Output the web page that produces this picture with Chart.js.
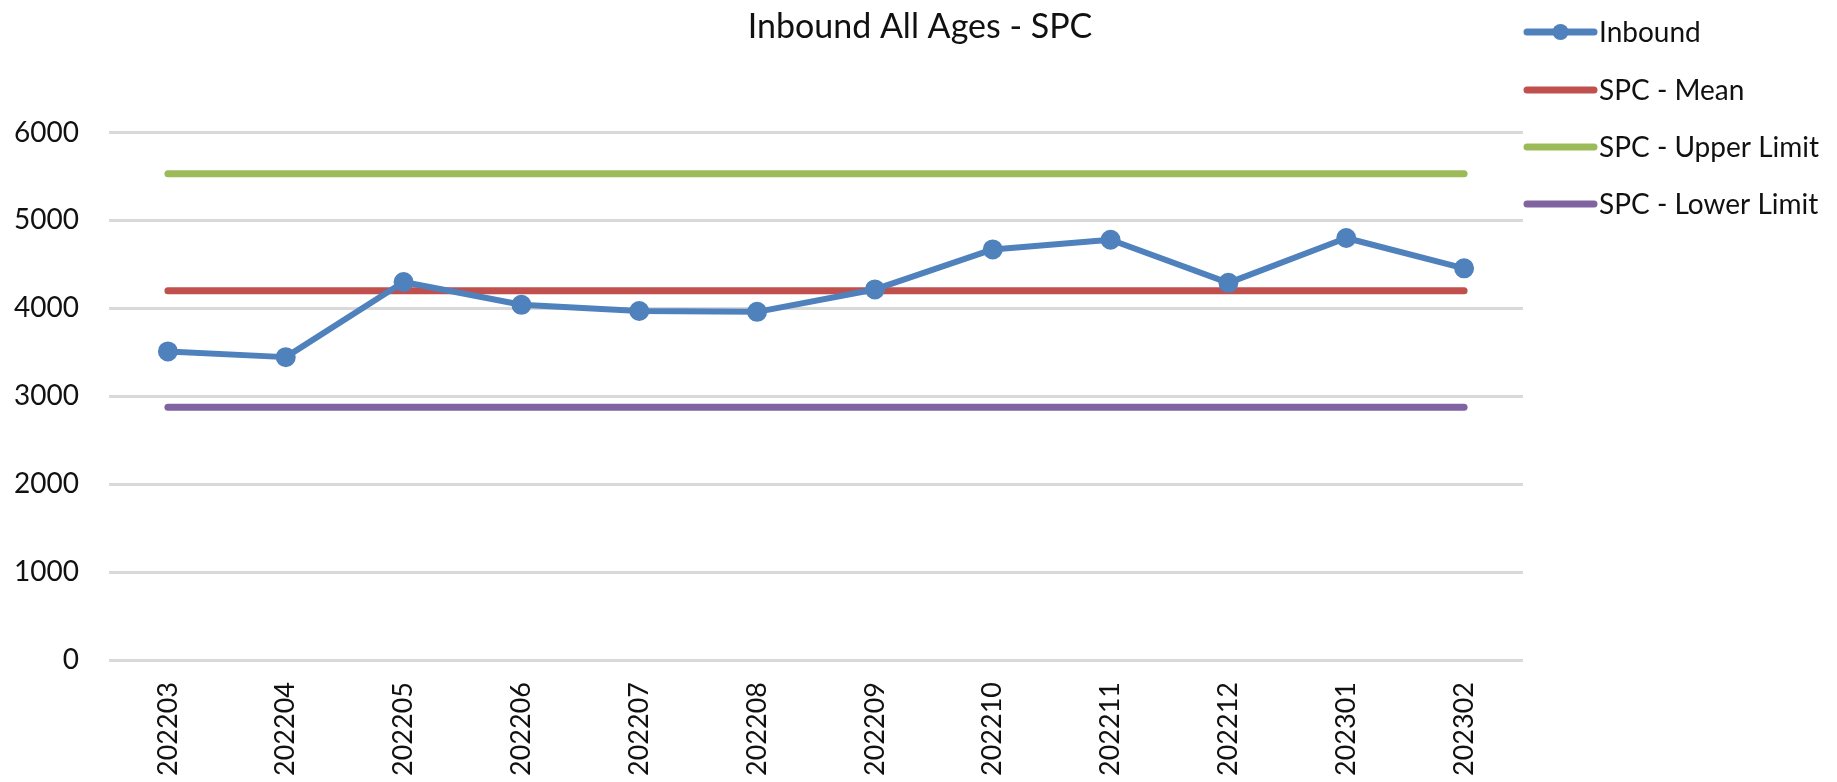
<!DOCTYPE html>
<html><head><meta charset="utf-8">
<script src="https://cdn.jsdelivr.net/npm/chart.js@4"></script>
<style>html,body{margin:0;padding:0;background:#fff}#wrap{width:1837px;height:782px}</style>
</head><body><div id="wrap"><canvas id="c" width="1837" height="782"></canvas></div>
<script>
const categories = ['202203','202204','202205','202206','202207','202208','202209','202210','202211','202212','202301','202302'];
const inbound   = [3510, 3445, 4300, 4040, 3970, 3960, 4215, 4670, 4780, 4290, 4800, 4455];
const spcMean   = [4201, 4201, 4201, 4201, 4201, 4201, 4201, 4201, 4201, 4201, 4201, 4201];
const spcUpper  = [5532, 5532, 5532, 5532, 5532, 5532, 5532, 5532, 5532, 5532, 5532, 5532];
const spcLower  = [2875, 2875, 2875, 2875, 2875, 2875, 2875, 2875, 2875, 2875, 2875, 2875];
const yTicks    = [0, 1000, 2000, 3000, 4000, 5000, 6000];
const titleText = 'Inbound All Ages - SPC';

const FONT = 'Lato';
const TEXT = '#111';

const titleLegendPlugin = {
  id: 'titleLegend',
  afterDraw(chart) {
    const ctx = chart.ctx;
    // title
    ctx.save();
    ctx.fillStyle = TEXT;
    ctx.font = '34px ' + FONT;
    ctx.textAlign = 'center';
    ctx.textBaseline = 'middle';
    ctx.fillText(chart.options.plugins.customTitle.text, 920, 27);
    ctx.restore();
    // legend
    const x0 = 1527, x1 = 1594, tx = 1599;
    const ys = [32, 90, 147, 204];
    chart.data.datasets.forEach((ds, i) => {
      ctx.save();
      ctx.strokeStyle = ds.borderColor;
      ctx.lineWidth = 7;
      ctx.lineCap = 'round';
      ctx.beginPath(); ctx.moveTo(x0, ys[i]); ctx.lineTo(x1, ys[i]); ctx.stroke();
      if (ds.pointRadius > 0) {
        ctx.fillStyle = ds.pointBackgroundColor;
        ctx.beginPath(); ctx.arc((x0 + x1) / 2, ys[i], 8, 0, Math.PI * 2); ctx.fill();
      }
      ctx.fillStyle = TEXT;
      ctx.font = '28px ' + FONT;
      ctx.textBaseline = 'middle';
      ctx.textAlign = 'left';
      ctx.fillText(ds.label, tx, ys[i] + 1);
      ctx.restore();
    });
  }
};

const lineDs = (label, data, color, marker) => ({
  label, data,
  borderColor: color,
  backgroundColor: color,
  pointBackgroundColor: color,
  pointBorderColor: color,
  borderWidth: marker ? 6 : 7,
  pointRadius: marker ? 7 : 0,
  pointHoverRadius: marker ? 7 : 0,
  borderCapStyle: 'round',
  borderJoinStyle: 'round',
  tension: 0,
  fill: false
});

new Chart(document.getElementById('c'), {
  type: 'line',
  data: {
    labels: categories,
    datasets: [
      lineDs('Inbound', inbound, '#4F81BD', true),
      lineDs('SPC - Mean', spcMean, '#C0504D', false),
      lineDs('SPC - Upper Limit', spcUpper, '#9BBB59', false),
      lineDs('SPC - Lower Limit', spcLower, '#8064A2', false)
    ]
  },
  options: {
    responsive: false,
    animation: false,
    layout: { padding: { left: 0, right: 314, top: 132.5, bottom: 0 } },
    plugins: {
      legend: { display: false },
      tooltip: { enabled: false },
      title: { display: false },
      customTitle: { text: titleText }
    },
    scales: {
      x: {
        offset: true,
        grid: { display: false, drawTicks: false },
        border: { display: false },
        ticks: {
          color: TEXT,
          font: { family: FONT, size: 27 },
          minRotation: 90, maxRotation: 90,
          padding: 22,
          autoSkip: false
        },
        afterFit(scale) { scale.height = 122; }
      },
      y: {
        min: 0, max: 6000,
        afterBuildTicks(scale) { scale.ticks = yTicks.map(v => ({ value: v })); },
        grid: { color: '#d9d9d9', lineWidth: 3, drawTicks: false },
        border: { display: false },
        ticks: {
          color: TEXT,
          font: { family: FONT, size: 28 },
          padding: 30,
          callback: (v) => String(v)
        },
        afterFit(scale) { scale.width = 109; }
      }
    }
  },
  plugins: [titleLegendPlugin]
});
</script></body></html>
